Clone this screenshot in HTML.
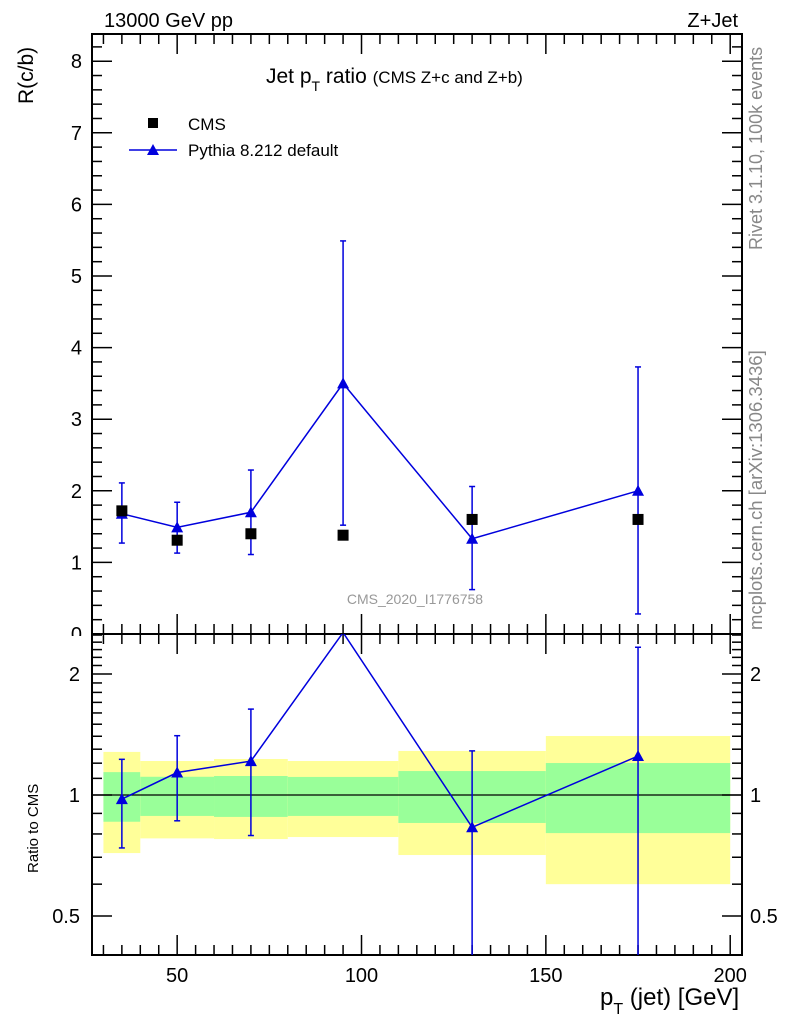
<!DOCTYPE html>
<html><head><meta charset="utf-8"><style>
html,body{margin:0;padding:0;background:#fff;overflow:hidden;width:786px;height:1024px;}
svg{display:block;font-family:"Liberation Sans",Arial,sans-serif;}
</style></head><body>
<svg id="c" width="786" height="1024" viewBox="0 0 786 1024" xmlns="http://www.w3.org/2000/svg"></svg>
<script>
const categories=[35,50,70,95,130,175];
const binLo=[30,40,60,80,110,150];
const binHi=[40,60,80,110,150,200];
const cmsValues=[1.72,1.31,1.40,1.38,1.60,1.60];
const pyValues=[1.68,1.49,1.70,3.50,1.33,2.00];
const pyErrLo=[1.27,1.13,1.11,1.52,0.62,0.28];
const pyErrHi=[2.11,1.84,2.29,5.49,2.06,3.73];
const bandYellowHi=[1.28,1.215,1.229,1.215,1.287,1.402];
const bandYellowLo=[0.717,0.78,0.777,0.786,0.709,0.600];
const bandGreenHi=[1.14,1.11,1.115,1.109,1.147,1.201];
const bandGreenLo=[0.858,0.887,0.882,0.887,0.852,0.804];
const xTicks=[50,100,150,200];
const yTicks=[1,2,3,4,5,6,7,8];
const rTicks=[0.5,1,2];

const svg=document.getElementById('c');
const NS='http://www.w3.org/2000/svg';
const L=92,R=742,T=34,M=634,B=955;
const xmin=26.9,xmax=203.2,ymax=8.38,rmax=2.52;
const X=v=>L+(v-xmin)/(xmax-xmin)*(R-L);
const Y=v=>M-v/ymax*(M-T);
const RY=v=>795-121*Math.log2(v);
function el(tag,attrs,parent){const e=document.createElementNS(NS,tag);for(const k in attrs)e.setAttribute(k,attrs[k]);(parent||svg).appendChild(e);return e;}
function txt(s,x,y,size,anchor,fill,parent){const t=el('text',{x:x,y:y,'font-size':size,'text-anchor':anchor||'start',fill:fill||'#000'},parent);t.textContent=s;return t;}

const defs=el('defs',{});
const cp=el('clipPath',{id:'rc'},defs);el('rect',{x:L,y:M,width:R-L,height:B-M},cp);
const cp2=el('clipPath',{id:'mc'},defs);el('rect',{x:L,y:T,width:R-L,height:M-T},cp2);
const cp3=el('clipPath',{id:'zc'},defs);el('rect',{x:0,y:0,width:L,height:M+2},cp3);

const bands=el('g',{'clip-path':'url(#rc)'});


for(let i=0;i<binLo.length;i++){
  const y=el('rect',{x:X(binLo[i]),y:RY(bandYellowHi[i]),width:X(binHi[i])-X(binLo[i]),height:RY(bandYellowLo[i])-RY(bandYellowHi[i]),fill:'#ffff99'},bands);
  
  
  const g=el('rect',{x:X(binLo[i]),y:RY(bandGreenHi[i]),width:X(binHi[i])-X(binLo[i]),height:RY(bandGreenLo[i])-RY(bandGreenHi[i]),fill:'#99ff99'},bands);
  
  
}
el('line',{x1:L,x2:R,y1:RY(1),y2:RY(1),stroke:'#000','stroke-width':1.2});

for(const [t,b,n] of [[T,M,'main-frame'],[M,B,'ratio-frame']]){
  const f=el('rect',{x:L,y:t,width:R-L,height:b-t,fill:'none',stroke:'#000','stroke-width':2});
  
  
}
for(let v=30;v<=200;v+=5){
  const major=v%50===0, len=major?20:10;
  for(const [t,b] of [[T,M],[M,B]]){
    el('line',{x1:X(v),x2:X(v),y1:b,y2:b-len,stroke:'#000','stroke-width':1.5});
    el('line',{x1:X(v),x2:X(v),y1:t,y2:t+len,stroke:'#000','stroke-width':1.5});
  }
}
xTicks.forEach(v=>{const t=txt(String(v),X(v),982,20,'middle');});
for(let k=0;k<=41;k++){const v=k*0.2;if(v>ymax)break;const major=k%5===0,len=major?20:10;
  el('line',{x1:L,x2:L+len,y1:Y(v),y2:Y(v),stroke:'#000','stroke-width':1.5});
  el('line',{x1:R,x2:R-len,y1:Y(v),y2:Y(v),stroke:'#000','stroke-width':1.5});}
yTicks.forEach(v=>{const t=txt(String(v),82,Y(v)+7,20,'end');});
const zl=el('text',{x:82,y:M+7,'font-size':20,'text-anchor':'end','clip-path':'url(#zc)'});zl.textContent='0';

const rt=[0.4,0.5,0.6,0.7,0.8,0.9,1,1.1,1.2,1.3,1.4,1.5,1.6,1.7,1.8,1.9,2,2.1,2.2,2.3,2.4,2.5];
rt.forEach(v=>{const y=RY(v);if(y<M||y>B)return;const major=rTicks.includes(v),len=major?20:10;
  el('line',{x1:L,x2:L+len,y1:y,y2:y,stroke:'#000','stroke-width':1.5});
  el('line',{x1:R,x2:R-len,y1:y,y2:y,stroke:'#000','stroke-width':1.5});});
rTicks.forEach(v=>{const s=String(v);const a=txt(s,80,RY(v)+7,20,'end');
  const b=txt(s,750,RY(v)+7,20,'start');});

const mg=el('g',{'clip-path':'url(#mc)'});
const pyLine=el('polyline',{points:categories.map((c,i)=>X(c)+','+Y(pyValues[i])).join(' '),fill:'none',stroke:'#0000dd','stroke-width':1.5},mg);


categories.forEach((c,i)=>{
  const x=X(c);
  el('line',{x1:x,x2:x,y1:Y(pyErrLo[i]),y2:Y(pyErrHi[i]),stroke:'#0000dd','stroke-width':1.5},mg);
  el('line',{x1:x-3,x2:x+3,y1:Y(pyErrLo[i]),y2:Y(pyErrLo[i]),stroke:'#0000dd','stroke-width':1.5},mg);
  el('line',{x1:x-3,x2:x+3,y1:Y(pyErrHi[i]),y2:Y(pyErrHi[i]),stroke:'#0000dd','stroke-width':1.5},mg);
  const y=Y(pyValues[i]);
  const tri=el('polygon',{points:`${x-6},${y+5} ${x+6},${y+5} ${x},${y-6}`,fill:'#0000dd'},mg);
  
  
  const sq=el('rect',{x:x-5.5,y:Y(cmsValues[i])-5.5,width:11,height:11,fill:'#000'},mg);
  
  
});

const rg=el('g',{'clip-path':'url(#rc)'});
const rl=el('polyline',{points:categories.map((c,i)=>X(c)+','+RY(pyValues[i]/cmsValues[i])).join(' '),fill:'none',stroke:'#0000dd','stroke-width':1.5},rg);


categories.forEach((c,i)=>{
  const r=pyValues[i]/cmsValues[i];
  if(r>rmax) return;
  const x=X(c),lo=RY(Math.max(pyErrLo[i]/cmsValues[i],0.01)),hi=RY(pyErrHi[i]/cmsValues[i]);
  el('line',{x1:x,x2:x,y1:lo,y2:hi,stroke:'#0000dd','stroke-width':1.5},rg);
  el('line',{x1:x-3,x2:x+3,y1:lo,y2:lo,stroke:'#0000dd','stroke-width':1.5},rg);
  el('line',{x1:x-3,x2:x+3,y1:hi,y2:hi,stroke:'#0000dd','stroke-width':1.5},rg);
  const y=RY(r);
  const tri=el('polygon',{points:`${x-6},${y+5} ${x+6},${y+5} ${x},${y-6}`,fill:'#0000dd'},rg);
  
  
});

let t;
t=txt('13000 GeV pp',104,27,20);
t=txt('Z+Jet',738,27,20,'end');
t=el('text',{x:0,y:0,'font-size':21,transform:'translate(33,104) rotate(-90)','text-anchor':'start'});t.textContent='R(c/b)';
t=el('text',{x:0,y:0,'font-size':15,transform:'translate(38,873) rotate(-90)','text-anchor':'start'});t.textContent='Ratio to CMS';
t=el('text',{x:266,y:83,'font-size':21,'xml:space':'preserve'});t.innerHTML='Jet p<tspan font-size="14" dy="8">T</tspan><tspan dy="-8"> ratio </tspan><tspan font-size="17">(CMS  Z+c and Z+b)</tspan>';
t=el('text',{x:600,y:1005,'font-size':24});t.innerHTML='p<tspan font-size="16" dy="9">T</tspan><tspan dy="-9"> (jet) [GeV]</tspan>';
const lg=el('g',{});
el('rect',{x:148,y:118,width:10,height:10,fill:'#000'},lg);
txt('CMS',188,130,17,'start','#000',lg);
el('line',{x1:129,x2:177,y1:150,y2:150,stroke:'#0000dd','stroke-width':1.5},lg);
el('polygon',{points:'147,155 159,155 153,144',fill:'#0000dd'},lg);
txt('Pythia 8.212 default',188,156,17,'start','#000',lg);
t=txt('CMS_2020_I1776758',415,604,14,'middle','#999');
t=el('text',{x:0,y:0,'font-size':18,fill:'#888',transform:'translate(762,250) rotate(-90)'});t.textContent='Rivet 3.1.10,  100k events';
t=el('text',{x:0,y:0,'font-size':18.5,fill:'#888',transform:'translate(762,630) rotate(-90)'});t.textContent='mcplots.cern.ch [arXiv:1306.3436]';
</script>
</body></html>
